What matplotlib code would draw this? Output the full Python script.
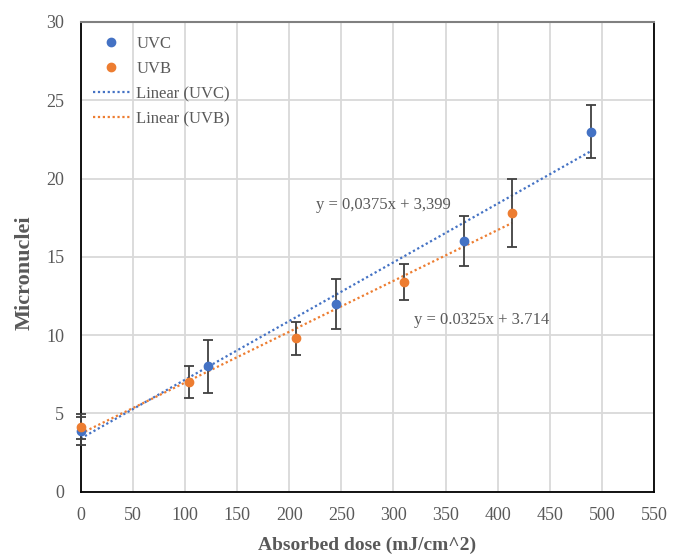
import matplotlib
matplotlib.use("Agg")
import matplotlib.pyplot as plt
import numpy as np
from matplotlib.lines import Line2D

uvc_x = [0, 122.5, 245, 367.5, 490]
uvc_y = [3.9, 8.0, 12.0, 16.0, 23.0]
uvc_err = [0.9, 1.7, 1.6, 1.6, 1.7]

uvb_x = [0, 103.5, 207, 310.5, 414]
uvb_y = [4.15, 7.0, 9.8, 13.4, 17.8]
uvb_err = [0.8, 1.0, 1.05, 1.15, 2.15]

uvc_fit = (0.0375, 3.399)
uvb_fit = (0.0325, 3.714)
uvc_eq = "y = 0,0375x + 3,399"
uvb_eq = "y = 0.0325x + 3.714"

blue = "#4472C4"
orange = "#ED7D31"
gray = "#595959"

plt.rcParams['font.family'] = ['Liberation Serif', 'DejaVu Serif']

fig = plt.figure(figsize=(6.79, 5.54), dpi=100)
ax = fig.add_axes([0.1189, 0.1125, 0.9632 - 0.1189, 0.9603 - 0.1125])

ax.set_xlim(0, 550)
ax.set_ylim(0, 30)
ax.set_xticks(np.arange(0, 551, 50))
ax.set_yticks(np.arange(0, 31, 5))
ax.grid(True, color="#d9d9d9", linewidth=1.3, zorder=0)
ax.set_axisbelow(True)
ax.tick_params(length=0, labelsize=13, colors=gray)
ax.tick_params(axis="x", pad=11)
ax.tick_params(axis="y", pad=12)
for lbl in ax.get_xticklabels() + ax.get_yticklabels():
    lbl.set_color(gray)

for s in ["left", "bottom", "right"]:
    ax.spines[s].set_color("black")
    ax.spines[s].set_linewidth(1.3)
ax.spines["top"].set_color("#808080")
ax.spines["top"].set_linewidth(1.5)

# trend lines
xc = np.array([0, max(uvc_x)])
xb = np.array([0, max(uvb_x)])
ax.plot(xc, uvc_fit[0] * xc + uvc_fit[1], linestyle=(0, (1, 1.2)), color=blue, linewidth=1.6,
        zorder=3, clip_on=False)
ax.plot(xb, uvb_fit[0] * xb + uvb_fit[1], linestyle=(0, (1, 1.2)), color=orange, linewidth=1.6,
        zorder=3, clip_on=False)

for xs, ys, es, c in [(uvc_x, uvc_y, uvc_err, blue), (uvb_x, uvb_y, uvb_err, orange)]:
    cont = ax.errorbar(xs, ys, yerr=es, fmt="o", color=c, markersize=6,
                       ecolor="#404040", elinewidth=1.3, capsize=3.5, capthick=1.3, zorder=4)
    cont[0].set_clip_on(False)
    for art in cont[1]:
        art.set_clip_on(False)
    for art in cont[2]:
        art.set_clip_on(False)

ax.text(226, 18.3, uvc_eq, fontsize=12, color=gray, va="center", ha="left")
ax.text(320, 10.97, uvb_eq, fontsize=12, color=gray, va="center", ha="left")

ax.set_xlabel("Absorbed dose (mJ/cm^2)", fontsize=14, fontweight="bold", color=gray, labelpad=9)
ax.set_ylabel("Micronuclei", fontsize=16, fontweight="bold", color=gray)
ax.yaxis.set_label_coords(-0.08, 0.466)

handles = [
    Line2D([], [], marker="o", linestyle="none", color=blue, markersize=6),
    Line2D([], [], marker="o", linestyle="none", color=orange, markersize=6),
    Line2D([], [], linestyle=(0, (1, 1.2)), color=blue, linewidth=1.6),
    Line2D([], [], linestyle=(0, (1, 1.2)), color=orange, linewidth=1.6),
]
labels = ["UVC", "UVB", "Linear (UVC)", "Linear (UVB)"]
leg = ax.legend(handles, labels, loc="upper left", bbox_to_anchor=(0.01, 0.985), frameon=False,
                fontsize=12, handlelength=2.2, handletextpad=0.4, labelspacing=0.55, borderaxespad=0)
for t in leg.get_texts():
    t.set_color(gray)

fig.savefig("out.png", dpi=100)
